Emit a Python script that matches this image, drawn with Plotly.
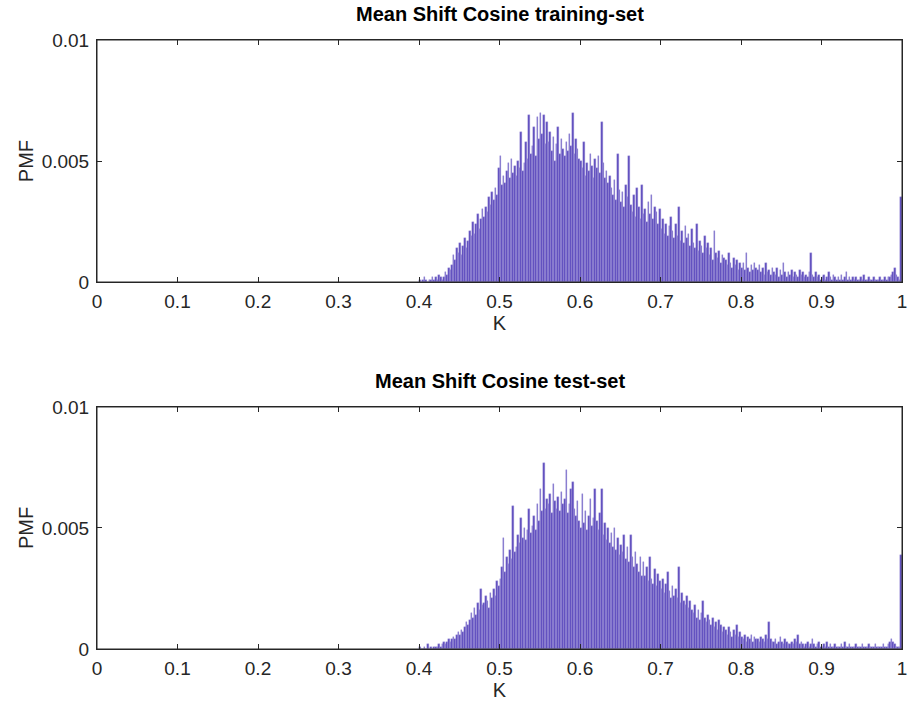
import plotly.graph_objects as go

# Bin centres: 0.401 ... 0.999 (bin width 0.002)
bin_width = 0.002
bin_centers = [round(0.401 + bin_width * i, 3) for i in range(300)]

train_pmf = [
    0.0001, 0.0000, 0.0001, 0.0002, 0.0001, 0.0000, 0.0001, 0.0001, 0.0002, 0.0001,
    0.0002, 0.0001, 0.0003, 0.0002, 0.0001, 0.0002, 0.0004, 0.0003, 0.0006, 0.0005,
    0.0007, 0.0011, 0.0009, 0.0014, 0.0012, 0.0016, 0.0011, 0.0015, 0.0018, 0.0014,
    0.0017, 0.0021, 0.0019, 0.0025, 0.0020, 0.0024, 0.0028, 0.0022, 0.0026, 0.0030,
    0.0027, 0.0031, 0.0029, 0.0035, 0.0032, 0.0037, 0.0034, 0.0039, 0.0036, 0.0047,
    0.0052, 0.0040, 0.0044, 0.0041, 0.0046, 0.0049, 0.0043, 0.0051, 0.0045, 0.0048,
    0.0044, 0.0050, 0.0047, 0.0062, 0.0046, 0.0049, 0.0058, 0.0051, 0.0069, 0.0053,
    0.0056, 0.0064, 0.0052, 0.0068, 0.0059, 0.0070, 0.0061, 0.0069, 0.0057, 0.0066,
    0.0058, 0.0062, 0.0054, 0.0060, 0.0050, 0.0057, 0.0064, 0.0053, 0.0059, 0.0055,
    0.0052, 0.0058, 0.0054, 0.0061, 0.0056, 0.0070, 0.0053, 0.0059, 0.0055, 0.0051,
    0.0050, 0.0047, 0.0058, 0.0044, 0.0049, 0.0046, 0.0053, 0.0048, 0.0043, 0.0051,
    0.0047, 0.0052, 0.0045, 0.0066, 0.0049, 0.0043, 0.0046, 0.0041, 0.0044, 0.0039,
    0.0036, 0.0042, 0.0034, 0.0053, 0.0038, 0.0033, 0.0037, 0.0031, 0.0040, 0.0035,
    0.0052, 0.0032, 0.0029, 0.0036, 0.0027, 0.0039, 0.0031, 0.0026, 0.0040, 0.0028,
    0.0030, 0.0025, 0.0033, 0.0028, 0.0036, 0.0026, 0.0031, 0.0029, 0.0024, 0.0030,
    0.0022, 0.0026, 0.0020, 0.0024, 0.0019, 0.0023, 0.0027, 0.0021, 0.0018, 0.0024,
    0.0019, 0.0031, 0.0017, 0.0021, 0.0016, 0.0023, 0.0018, 0.0020, 0.0015, 0.0022,
    0.0016, 0.0014, 0.0024, 0.0013, 0.0017, 0.0015, 0.0012, 0.0019, 0.0014, 0.0016,
    0.0011, 0.0014, 0.0009, 0.0021, 0.0012, 0.0010, 0.0013, 0.0008, 0.0011, 0.0010,
    0.0009, 0.0007, 0.0012, 0.0008, 0.0006, 0.0010, 0.0007, 0.0009, 0.0005, 0.0008,
    0.0006, 0.0008, 0.0005, 0.0012, 0.0006, 0.0004, 0.0007, 0.0005, 0.0008, 0.0006,
    0.0005, 0.0007, 0.0004, 0.0006, 0.0003, 0.0008, 0.0004, 0.0005, 0.0003, 0.0006,
    0.0004, 0.0003, 0.0006, 0.0002, 0.0005, 0.0003, 0.0008, 0.0004, 0.0002, 0.0004,
    0.0003, 0.0005, 0.0002, 0.0004, 0.0003, 0.0002, 0.0005, 0.0003, 0.0004, 0.0002,
    0.0003, 0.0002, 0.0004, 0.0012, 0.0003, 0.0002, 0.0004, 0.0002, 0.0003, 0.0001,
    0.0002, 0.0003, 0.0001, 0.0002, 0.0004, 0.0002, 0.0001, 0.0003, 0.0002, 0.0001,
    0.0002, 0.0001, 0.0003, 0.0001, 0.0002, 0.0004, 0.0001, 0.0002, 0.0001, 0.0002,
    0.0001, 0.0002, 0.0001, 0.0001, 0.0002, 0.0001, 0.0003, 0.0001, 0.0001, 0.0002,
    0.0001, 0.0001, 0.0002, 0.0001, 0.0001, 0.0001, 0.0002, 0.0001, 0.0001, 0.0002,
    0.0001, 0.0002, 0.0002, 0.0003, 0.0004, 0.0006, 0.0003, 0.0002, 0.0001, 0.0035,
]

test_pmf = [
    0.0001, 0.0000, 0.0000, 0.0001, 0.0000, 0.0002, 0.0000, 0.0001, 0.0000, 0.0001,
    0.0001, 0.0001, 0.0002, 0.0001, 0.0002, 0.0003, 0.0002, 0.0003, 0.0004, 0.0003,
    0.0004, 0.0005, 0.0004, 0.0006, 0.0007, 0.0006, 0.0008, 0.0007, 0.0009, 0.0011,
    0.0010, 0.0012, 0.0015, 0.0013, 0.0017, 0.0014, 0.0019, 0.0016, 0.0025, 0.0018,
    0.0019, 0.0022, 0.0020, 0.0017, 0.0023, 0.0021, 0.0025, 0.0022, 0.0028, 0.0026,
    0.0029, 0.0034, 0.0046, 0.0032, 0.0038, 0.0035, 0.0041, 0.0037, 0.0059, 0.0040,
    0.0042, 0.0047, 0.0044, 0.0054, 0.0046, 0.0050, 0.0045, 0.0049, 0.0058, 0.0048,
    0.0051, 0.0055, 0.0049, 0.0060, 0.0053, 0.0066, 0.0057, 0.0077, 0.0058, 0.0062,
    0.0060, 0.0064, 0.0056, 0.0068, 0.0061, 0.0058, 0.0063, 0.0057, 0.0065, 0.0060,
    0.0062, 0.0074, 0.0056, 0.0060, 0.0066, 0.0069, 0.0058, 0.0055, 0.0061, 0.0053,
    0.0050, 0.0064, 0.0052, 0.0057, 0.0049, 0.0055, 0.0062, 0.0051, 0.0054, 0.0066,
    0.0053, 0.0049, 0.0056, 0.0066, 0.0047, 0.0052, 0.0045, 0.0050, 0.0044, 0.0048,
    0.0042, 0.0050, 0.0041, 0.0046, 0.0039, 0.0043, 0.0040, 0.0047, 0.0037, 0.0042,
    0.0036, 0.0047, 0.0038, 0.0034, 0.0040, 0.0035, 0.0032, 0.0038, 0.0030, 0.0036,
    0.0030, 0.0034, 0.0028, 0.0038, 0.0029, 0.0027, 0.0033, 0.0026, 0.0031, 0.0028,
    0.0025, 0.0029, 0.0023, 0.0027, 0.0032, 0.0024, 0.0021, 0.0026, 0.0022, 0.0025,
    0.0021, 0.0034, 0.0019, 0.0023, 0.0020, 0.0018, 0.0022, 0.0017, 0.0020, 0.0016,
    0.0015, 0.0018, 0.0013, 0.0016, 0.0012, 0.0015, 0.0020, 0.0013, 0.0011, 0.0014,
    0.0012, 0.0010, 0.0013, 0.0009, 0.0011, 0.0008, 0.0012, 0.0010, 0.0007, 0.0009,
    0.0008, 0.0006, 0.0009, 0.0007, 0.0005, 0.0008, 0.0006, 0.0010, 0.0005, 0.0007,
    0.0005, 0.0004, 0.0006, 0.0003, 0.0005, 0.0004, 0.0006, 0.0003, 0.0005, 0.0004,
    0.0004, 0.0003, 0.0005, 0.0004, 0.0003, 0.0006, 0.0004, 0.0011, 0.0004, 0.0003,
    0.0003, 0.0004, 0.0002, 0.0003, 0.0005, 0.0003, 0.0002, 0.0004, 0.0003, 0.0002,
    0.0002, 0.0003, 0.0002, 0.0004, 0.0003, 0.0006, 0.0002, 0.0003, 0.0002, 0.0001,
    0.0002, 0.0003, 0.0001, 0.0002, 0.0004, 0.0002, 0.0001, 0.0002, 0.0003, 0.0001,
    0.0001, 0.0002, 0.0001, 0.0003, 0.0001, 0.0002, 0.0001, 0.0001, 0.0002, 0.0001,
    0.0001, 0.0001, 0.0002, 0.0001, 0.0003, 0.0001, 0.0001, 0.0002, 0.0001, 0.0001,
    0.0001, 0.0002, 0.0001, 0.0001, 0.0001, 0.0002, 0.0001, 0.0001, 0.0001, 0.0002,
    0.0001, 0.0001, 0.0001, 0.0002, 0.0001, 0.0001, 0.0001, 0.0001, 0.0002, 0.0001,
    0.0001, 0.0002, 0.0003, 0.0004, 0.0003, 0.0002, 0.0001, 0.0001, 0.0001, 0.0039,
]

titles = ["Mean Shift Cosine training-set", "Mean Shift Cosine test-set"]
x_tick_vals = [0, 0.1, 0.2, 0.3, 0.4, 0.5, 0.6, 0.7, 0.8, 0.9, 1]
x_tick_text = ["0", "0.1", "0.2", "0.3", "0.4", "0.5", "0.6", "0.7", "0.8", "0.9", "1"]
y_tick_vals = [0, 0.005, 0.01]
y_tick_text = ["0", "0.005", "0.01"]

BAR_COLOR = "#5b49bd"
BAR_EDGE = "#a79ddc"
AX_COLOR = "#262626"
FONT = "Liberation Sans, Arial, Helvetica, sans-serif"

fig = go.Figure()
fig.add_trace(go.Bar(x=bin_centers, y=train_pmf, width=bin_width,
                     marker=dict(color=BAR_COLOR, line=dict(width=0.4, color=BAR_EDGE)),
                     xaxis="x", yaxis="y", showlegend=False))
fig.add_trace(go.Bar(x=bin_centers, y=test_pmf, width=bin_width,
                     marker=dict(color=BAR_COLOR, line=dict(width=0.4, color=BAR_EDGE)),
                     xaxis="x2", yaxis="y2", showlegend=False))

axis_common = dict(showline=True, linecolor=AX_COLOR, linewidth=1, mirror="ticks",
                   ticks="inside", ticklen=5, tickcolor=AX_COLOR, showgrid=False,
                   zeroline=False, automargin=False,
                   tickfont=dict(family=FONT, size=19, color=AX_COLOR))

title_font = dict(family=FONT, size=20, color=AX_COLOR)

fig.update_layout(
    width=908, height=711,
    margin=dict(l=97, r=6, t=40, b=62, autoexpand=False),
    paper_bgcolor="white", plot_bgcolor="white",
    bargap=0,
    xaxis=dict(domain=[0, 1], range=[0, 1], anchor="y", tickvals=x_tick_vals,
               ticktext=x_tick_text, ticklabelstandoff=2,
               title=dict(text="K", font=title_font, standoff=5),
               **axis_common),
    yaxis=dict(domain=[0.6026, 1], range=[0, 0.01], anchor="x", tickvals=y_tick_vals,
               ticktext=y_tick_text, ticklabelstandoff=3,
               title=dict(text="PMF", font=title_font, standoff=2),
               **axis_common),
    xaxis2=dict(domain=[0, 1], range=[0, 1], anchor="y2", tickvals=x_tick_vals,
                ticktext=x_tick_text, ticklabelstandoff=2,
                title=dict(text="K", font=title_font, standoff=5),
                **axis_common),
    yaxis2=dict(domain=[0, 0.3974], range=[0, 0.01], anchor="x2", tickvals=y_tick_vals,
                ticktext=y_tick_text, ticklabelstandoff=3,
                title=dict(text="PMF", font=title_font, standoff=2),
                **axis_common),
    annotations=[
        dict(text="<b>" + titles[0] + "</b>", x=0.5, y=1, xref="paper", yref="paper",
             xanchor="center", yanchor="bottom", yshift=13, showarrow=False,
             font=dict(family=FONT, size=20, color="black")),
        dict(text="<b>" + titles[1] + "</b>", x=0.5, y=0.3974, xref="paper", yref="paper",
             xanchor="center", yanchor="bottom", yshift=13, showarrow=False,
             font=dict(family=FONT, size=20, color="black")),
    ],
    shapes=[
        dict(type="rect", xref="x domain", yref="y domain", x0=0, x1=1, y0=0, y1=1,
             line=dict(color=AX_COLOR, width=1), fillcolor="rgba(0,0,0,0)", layer="above"),
        dict(type="rect", xref="x2 domain", yref="y2 domain", x0=0, x1=1, y0=0, y1=1,
             line=dict(color=AX_COLOR, width=1), fillcolor="rgba(0,0,0,0)", layer="above"),
    ],
)

fig.write_html("out.html", config={"displayModeBar": False},
               post_script="document.body.style.margin='0';document.body.style.overflow='hidden';")
